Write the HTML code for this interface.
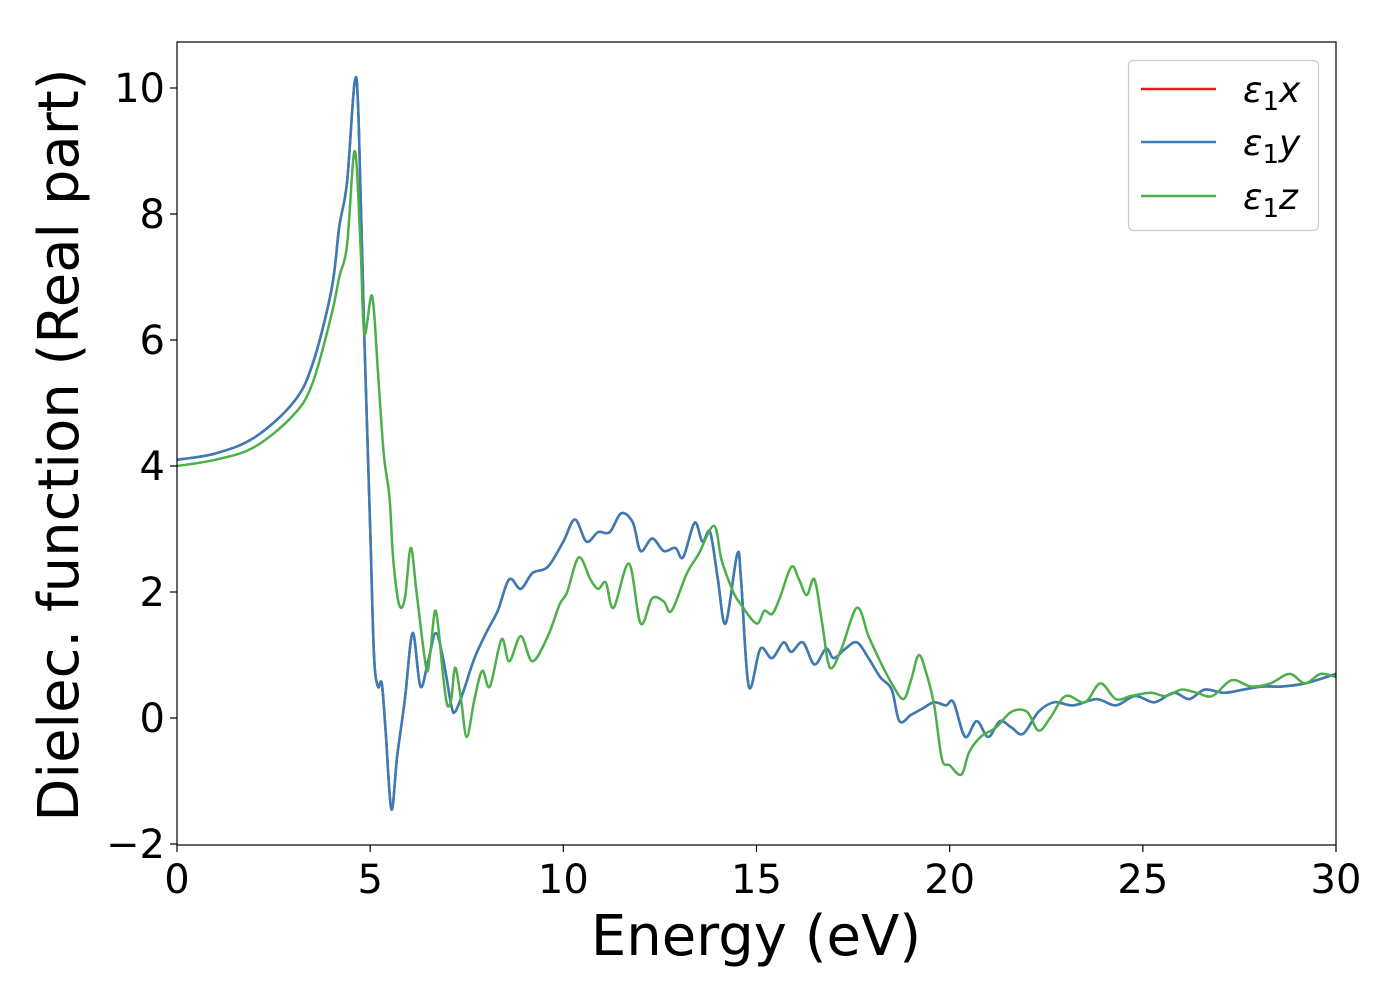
<!DOCTYPE html>
<html><head><meta charset="utf-8"><style>
body{margin:0;background:#fff}
svg{display:block;font-family:"DejaVu Sans","Liberation Sans",sans-serif}
</style></head><body>
<svg id="chart" width="1400" height="1000">
<rect x="0" y="0" width="1400" height="1000" fill="#fff"/>
<g id="series"></g>
<rect x="177" y="42" width="1159" height="803" fill="none" stroke="#000" stroke-width="1.2"/>
<g id="xticks"></g>
<g id="yticks"></g>
<text x="756" y="955" font-size="56" text-anchor="middle">Energy (eV)</text>
<text transform="translate(78,445) rotate(-90)" font-size="56" text-anchor="middle">Dielec. function (Real part)</text>
<g>
<rect x="1128.5" y="60.5" width="190" height="170" rx="5" fill="#fff" fill-opacity="0.8" stroke="#ccc" stroke-width="1.2"/>
<line x1="1141" y1="89" x2="1216" y2="89" stroke="#e41a1c" stroke-width="2.5"/>
<text x="1243" y="102" font-size="36" font-style="italic">ε<tspan font-style="normal" font-size="26" dy="8">1</tspan><tspan dy="-8">x</tspan></text>
<line x1="1141" y1="142" x2="1216" y2="142" stroke="#377eb8" stroke-width="2.5"/>
<text x="1243" y="155" font-size="36" font-style="italic">ε<tspan font-style="normal" font-size="26" dy="8">1</tspan><tspan dy="-8">y</tspan></text>
<line x1="1141" y1="196" x2="1216" y2="196" stroke="#4daf4a" stroke-width="2.5"/>
<text x="1243" y="209" font-size="36" font-style="italic">ε<tspan font-style="normal" font-size="26" dy="8">1</tspan><tspan dy="-8">z</tspan></text>
</g>
</svg>
<script>
const energyXY=[0,1,2,3,3.5,4,4.2,4.4,4.6,4.7,4.85,5.0,5.1,5.2,5.3,5.4,5.55,5.7,5.9,6.1,6.3,6.5,6.7,6.9,7.1,7.2,7.4,7.7,8.0,8.3,8.6,8.9,9.2,9.6,10.0,10.3,10.6,10.9,11.2,11.5,11.8,12.0,12.3,12.6,12.9,13.1,13.4,13.6,13.8,14.0,14.2,14.5,14.6,14.8,15.1,15.4,15.7,15.9,16.2,16.5,16.8,17.0,17.3,17.6,17.9,18.2,18.5,18.7,19.0,19.3,19.6,19.9,20.1,20.4,20.7,21.0,21.3,21.6,21.9,22.3,22.7,23.2,23.8,24.3,24.8,25.3,25.8,26.2,26.6,27.1,27.6,28.1,28.6,29.2,30];
const eps1x=[4.1,4.2,4.45,5.0,5.6,6.8,7.8,8.5,10.1,9.5,6,3,1.0,0.5,0.55,-0.2,-1.45,-0.6,0.3,1.35,0.5,0.9,1.35,0.9,0.2,0.1,0.4,0.95,1.35,1.7,2.2,2.05,2.3,2.4,2.8,3.15,2.8,2.95,2.95,3.25,3.1,2.65,2.85,2.65,2.7,2.55,3.1,2.8,2.95,2.2,1.5,2.6,2.2,0.5,1.1,0.95,1.2,1.05,1.2,0.85,1.1,0.95,1.1,1.2,0.95,0.65,0.45,-0.05,0.05,0.15,0.25,0.2,0.25,-0.3,-0.05,-0.3,-0.05,-0.15,-0.25,0.1,0.25,0.2,0.3,0.2,0.35,0.25,0.4,0.3,0.45,0.4,0.45,0.5,0.5,0.55,0.7];
const eps1y=eps1x.slice();
const energyZ=[0,1,2,3,3.5,4.0,4.2,4.4,4.6,4.75,4.85,5.05,5.2,5.35,5.5,5.6,5.75,5.9,6.05,6.2,6.45,6.55,6.7,6.9,7.0,7.1,7.2,7.35,7.5,7.7,7.9,8.1,8.4,8.6,8.9,9.2,9.6,9.9,10.1,10.4,10.7,10.9,11.1,11.3,11.7,12.0,12.3,12.6,12.8,13.2,13.5,13.9,14.1,14.4,14.6,15.0,15.2,15.4,15.6,15.9,16.1,16.3,16.5,16.7,16.9,17.2,17.6,17.9,18.2,18.5,18.8,19.0,19.2,19.4,19.6,19.8,20.0,20.3,20.5,20.8,21.2,21.6,22.0,22.3,22.6,23.0,23.5,23.9,24.3,24.7,25.2,25.6,26.0,26.4,26.8,27.3,27.8,28.3,28.8,29.2,29.6,30];
const eps1z=[4.0,4.1,4.3,4.8,5.3,6.4,7.0,7.5,9.0,7.5,6.1,6.7,5.5,4.2,3.5,2.5,1.8,1.9,2.7,2.0,0.8,1.0,1.7,0.6,0.2,0.3,0.8,0.3,-0.3,0.3,0.75,0.5,1.25,0.9,1.3,0.9,1.3,1.8,2.0,2.55,2.2,2.05,2.15,1.75,2.45,1.5,1.9,1.85,1.7,2.3,2.6,3.05,2.5,2.0,1.8,1.5,1.7,1.65,1.9,2.4,2.2,1.95,2.2,1.5,0.8,1.1,1.75,1.3,0.9,0.55,0.3,0.6,1.0,0.7,0.2,-0.65,-0.75,-0.9,-0.55,-0.3,-0.15,0.1,0.1,-0.2,0.0,0.35,0.25,0.55,0.3,0.35,0.4,0.35,0.45,0.4,0.35,0.6,0.5,0.55,0.7,0.55,0.7,0.65];
const xTicks=[0,5,10,15,20,25,30];
const yTicks=[-2,0,2,4,6,8,10];

const NS="http://www.w3.org/2000/svg";
function xs(v){return 177+v*(1159/30);}
function ys(v){return 718-v*63;}
function smoothPath(xsArr,vs){
  const p=xsArr.map((e,i)=>[xs(e),ys(vs[i])]);
  let d="M"+p[0][0].toFixed(1)+","+p[0][1].toFixed(1);
  for(let i=0;i<p.length-1;i++){
    const p0=p[Math.max(0,i-1)],p1=p[i],p2=p[i+1],p3=p[Math.min(p.length-1,i+2)];
    const c1=[p1[0]+(p2[0]-p0[0])/6,p1[1]+(p2[1]-p0[1])/6];
    const c2=[p2[0]-(p3[0]-p1[0])/6,p2[1]-(p3[1]-p1[1])/6];
    d+="C"+c1[0].toFixed(1)+","+c1[1].toFixed(1)+" "+c2[0].toFixed(1)+","+c2[1].toFixed(1)+" "+p2[0].toFixed(1)+","+p2[1].toFixed(1);
  }
  return d;
}
const sg=document.getElementById("series");
function addLine(xa,va,color,name){
  const el=document.createElementNS(NS,"path");
  el.setAttribute("d",smoothPath(xa,va));
  el.setAttribute("fill","none");
  el.setAttribute("stroke",color);
  el.setAttribute("stroke-width","2.5");
  el.setAttribute("stroke-linejoin","round");
  
  
  sg.appendChild(el);
}
addLine(energyXY,eps1x,"#e41a1c","series-eps1-x");
addLine(energyXY,eps1y,"#377eb8","series-eps1-y");
addLine(energyZ,eps1z,"#4daf4a","series-eps1-z");

const xg=document.getElementById("xticks");
xTicks.forEach(t=>{
  const l=document.createElementNS(NS,"line");
  l.setAttribute("x1",xs(t));l.setAttribute("x2",xs(t));
  l.setAttribute("y1",845);l.setAttribute("y2",852);
  l.setAttribute("stroke","#000");l.setAttribute("stroke-width","1.2");
  
  
  xg.appendChild(l);
  const tx=document.createElementNS(NS,"text");
  tx.setAttribute("x",xs(t));tx.setAttribute("y",893);
  tx.setAttribute("font-size","40");tx.setAttribute("text-anchor","middle");
  tx.textContent=t;
  
  
  xg.appendChild(tx);
});
const yg=document.getElementById("yticks");
yTicks.forEach(t=>{
  const l=document.createElementNS(NS,"line");
  l.setAttribute("x1",170);l.setAttribute("x2",177);
  l.setAttribute("y1",ys(t));l.setAttribute("y2",ys(t));
  l.setAttribute("stroke","#000");l.setAttribute("stroke-width","1.2");
  
  
  yg.appendChild(l);
  const tx=document.createElementNS(NS,"text");
  tx.setAttribute("x",165);tx.setAttribute("y",ys(t)+14);
  tx.setAttribute("font-size","40");tx.setAttribute("text-anchor","end");
  tx.textContent=t<0?"\u2212"+Math.abs(t):String(t);
  
  
  yg.appendChild(tx);
});
</script>
</body></html>
